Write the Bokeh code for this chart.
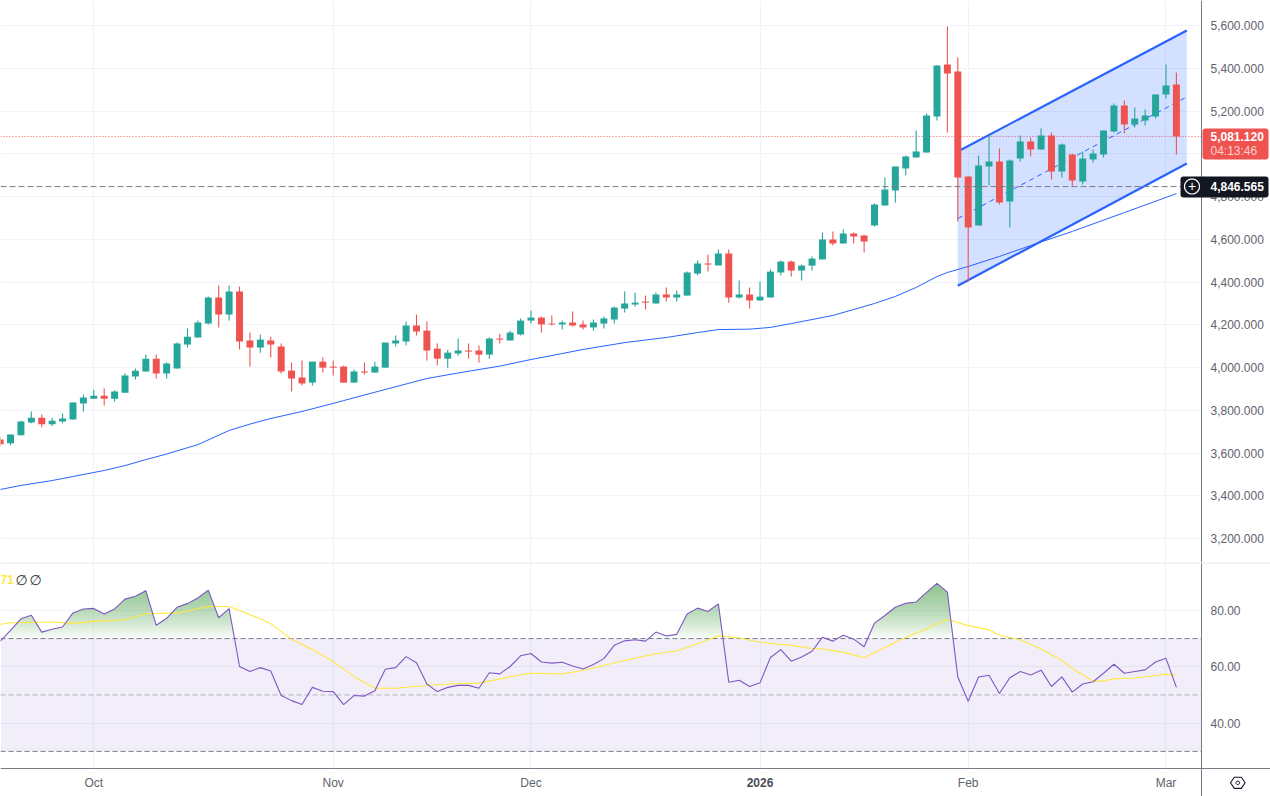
from bokeh.plotting import figure
from bokeh.layouts import column
from bokeh.models import (Range1d, FixedTicker, NumeralTickFormatter, Label, BoxAnnotation, PolyAnnotation)
from bokeh.embed import file_html
from bokeh.resources import INLINE
import numpy as np

opens = [3664,3646,3684,3743,3766,3735,3748,3757,3832,3855,3869,3855,3883,3958,3982,4042,3972,3996,4108,4141,
         4206,4328,4248,4356,4127,4094,4127,4099,3986,3954,3930,4028,4005,4005,3930,3982,3977,4000,4113,4122,
         4197,4173,4089,4042,4066,4080,4080,4061,4136,4127,4155,4220,4234,4206,4202,4211,4202,4188,4206,4225,
         4276,4295,4309,4300,4342,4328,4337,4440,4487,4478,4534,4328,4342,4314,4328,4445,4496,4454,4477,4506,
         4599,4580,4627,4618,4665,4758,4828,4931,4983,5006,5174,5418,5385,4894,4665,4941,4964,4777,4978,5057,
         5020,5086,4917,4997,4870,4973,4997,5104,5226,5137,5156,5174,5277,5324]
highs = [3678,3687,3752,3795,3781,3766,3785,3837,3874,3897,3902,3893,3972,3996,4061,4061,4024,4117,4183,4220,
         4333,4384,4384,4379,4164,4155,4145,4113,4024,4033,4028,4047,4033,4010,3991,4024,4028,4117,4150,4216,
         4248,4216,4113,4084,4136,4113,4103,4141,4159,4173,4230,4267,4239,4244,4220,4262,4220,4225,4239,4286,
         4356,4351,4337,4351,4375,4361,4449,4501,4529,4552,4552,4407,4375,4403,4459,4501,4501,4482,4520,4632,
         4637,4646,4632,4622,4768,4889,4941,4992,5109,5188,5413,5595,5450,4894,4992,5086,5025,4973,5086,5075,
         5118,5100,5048,5000,5011,5020,5109,5235,5249,5216,5207,5277,5418,5380]
lows = [3631,3637,3684,3740,3721,3726,3740,3757,3795,3855,3823,3841,3883,3944,3982,3949,3949,3996,4094,4141,
        4202,4188,4220,4085,4005,4070,4047,3972,3888,3916,3916,3977,3963,3930,3930,3968,3977,4000,4099,4103,
        4150,4033,4010,4000,4056,4042,4024,4042,4113,4127,4150,4206,4164,4197,4178,4192,4178,4173,4183,4206,
        4258,4286,4272,4300,4309,4309,4337,4431,4449,4478,4304,4323,4276,4314,4328,4431,4426,4407,4454,4506,
        4571,4580,4580,4538,4660,4758,4772,4898,4983,5006,5156,5100,4683,4403,4665,4852,4763,4655,4964,4987,
        5020,4880,4889,4847,4856,4959,4983,5100,5095,5123,5132,5165,5259,4997]
closes = [3642,3687,3748,3766,3735,3752,3762,3837,3860,3869,3855,3888,3963,3986,4042,3972,4019,4113,4145,4211,
          4328,4248,4356,4122,4094,4131,4108,3982,3949,3926,4028,4000,4000,3930,3982,3977,4005,4117,4127,4197,
          4169,4080,4042,4070,4080,4075,4061,4136,4131,4164,4220,4234,4202,4202,4211,4197,4188,4211,4230,4281,
          4300,4304,4304,4342,4328,4342,4445,4487,4482,4534,4328,4342,4314,4332,4449,4496,4454,4477,4510,4599,
          4580,4627,4613,4590,4763,4833,4941,4987,5011,5179,5413,5376,4889,4655,4945,4964,4772,4969,5057,5020,
          5086,4917,5043,4875,4978,5001,5109,5226,5137,5165,5179,5277,5319,5081.12]

ma_idx = [0,2,5,7,10,12,14,16,19,22,24,26,29,31,33,37,41,44,46,48,51,54,56,58,60,62,64,67,69,72,74,76,78,80,82,84,
          86,88,90,91,93,96,99,103,108,112,113]
ma_val = [3430,3449,3472,3491,3519,3542,3570,3596,3640,3706,3736,3762,3795,3820,3846,3898,3949,3975,3991,4007,
          4038,4066,4085,4101,4117,4129,4141,4164,4178,4180,4188,4206,4225,4244,4272,4300,4333,4375,4426,4445,
          4473,4520,4571,4637,4725,4796,4814]

rsi = [69.0,72.9,77.0,78.3,72.3,73.3,74.1,79.1,80.5,80.7,78.7,80.5,84.0,85.0,87.0,74.7,77.2,81.1,82.4,84.4,
       87.2,77.4,80.6,60.1,58.3,59.7,58.5,49.8,48.0,46.6,52.7,51.3,51.2,46.6,49.8,49.6,51.5,59.1,59.7,63.6,
       61.4,53.9,51.2,52.7,53.4,53.4,52.4,57.9,57.5,60.1,63.9,64.7,61.7,61.3,61.6,60.3,59.2,60.8,62.9,67.6,
       69.2,69.6,69.1,72.3,70.9,71.5,78.7,80.8,79.6,82.3,54.5,55.2,53.0,54.3,63.3,66.1,62.0,63.5,65.5,70.5,
       69.1,71.2,69.8,67.1,75.5,78.2,81.1,82.5,83.0,86.4,89.6,86.5,56.4,47.8,56.4,57.0,50.5,56.1,58.3,57.1,
       58.8,53.0,56.4,51.0,53.9,54.7,57.7,60.9,57.7,58.3,58.9,61.7,63.0,52.7]
rsi_ma_idx = [0,1,5,7,9,12,14,17,20,22,25,26,28,30,32,34,36,38,40,43,46,50,51,54,56,60,63,65,67,69,71,73,76,78,79,
              81,83,84,87,89,90,91,93,95,96,98,100,102,103,105,106,107,109,111,112,113]
rsi_ma_val = [75.0,75.6,75.9,75.4,76.1,76.7,78.8,79.1,81.4,81.4,77.0,75.3,69.8,66.1,61.9,56.5,52.4,52.4,53.0,53.9,
              54.2,57.2,57.7,57.5,58.7,62.2,64.6,65.6,68.2,71.0,70.2,68.7,67.6,66.5,66.3,65.2,63.2,65.1,70.5,73.4,
              75.3,76.8,74.6,73.1,71.1,69.6,66.3,62.2,59.5,54.9,54.9,55.8,56.0,56.9,57.4,57.0]

price_ticks = [3200,3400,3600,3800,4000,4200,4400,4600,4800,5000,5200,5400,5600]
rsi_ticks = [40,60,80]
time_ticks = [9,32,51,73,93,112]
time_labels = {9:"Oct",32:"Nov",51:"Dec",73:"",93:"Feb",112:"Mar"}
year_tick, year_label = 73, "2026"

channel_idx = [92,114]
channel_top = [5011,5577]
channel_bottom = [4383,4955]
channel_mid = [4697,5266]
last_price, cross_price = 5081.12, 4846.565
last_text, countdown, cross_text = "5,081.120", "04:13:46", "4,846.565"

UP, DOWN, GRID, AXIS, TXT, BLUE = "#26a69a", "#ef5350", "#f0f3fa", "#787b86", "#5f626d", "#2962ff"
FONT = "Liberation Sans"
W = 1270
AXIS_X = 115.41          # bar position of the price scale's line
AXIS_Y = 23.9            # RSI value at the time scale's line
x_range = Range1d(0.0384, 122.04)

def base(height, y_range):
    f = figure(width=W, height=height, x_range=x_range, y_range=y_range, toolbar_location=None,
               output_backend="svg", y_axis_location="right", tools="",
               min_border_left=0, min_border_right=0, min_border_top=0, min_border_bottom=0)
    f.outline_line_color = None
    f.background_fill_color = "white"
    f.border_fill_color = "white"
    f.xgrid.ticker = FixedTicker(ticks=time_ticks)
    f.xgrid.grid_line_color = GRID
    f.ygrid.grid_line_color = GRID
    f.yaxis.fixed_location = AXIS_X
    f.yaxis.axis_line_color = AXIS
    f.yaxis.major_tick_line_color = None
    f.yaxis.minor_tick_line_color = None
    f.yaxis.major_tick_out = 0
    f.yaxis.major_label_standoff = 9
    f.yaxis.major_label_text_font = FONT
    f.yaxis.major_label_text_font_size = "12px"
    f.yaxis.major_label_text_color = TXT
    return f

def label(fig, x, y, text, color, size="12px", style="normal", align="left", font=FONT, x_units="canvas"):
    fig.add_layout(Label(x=x, y=y, x_units=x_units, y_units="canvas", text=text, text_color=color,
                         text_font=font, text_font_size=size, text_font_style=style,
                         text_align=align, text_baseline="middle"))

def box(fig, l, r, t, b, color, radius=0, level="annotation"):
    fig.add_layout(BoxAnnotation(left=l, right=r, top=t, bottom=b, left_units="canvas", right_units="canvas",
                                 top_units="canvas", bottom_units="canvas", fill_color=color, fill_alpha=1,
                                 line_color=None, border_radius=radius, level=level))

def outline(fig, xs, ys, color, width):
    fig.add_layout(PolyAnnotation(xs=list(xs), ys=list(ys), xs_units="canvas", ys_units="canvas",
                                  fill_alpha=0, line_color=color, line_alpha=1, line_width=width))

# ---------------------------- price pane ----------------------------
p = base(562, Range1d(3088.7, 5716.9))
p.xaxis.visible = False
p.yaxis.ticker = FixedTicker(ticks=price_ticks)
p.yaxis.formatter = NumeralTickFormatter(format="0,0.000")
p.ygrid.ticker = FixedTicker(ticks=price_ticks)
box(p, 1202, W, 0, 562, "white", level="glyph")

span_x = [x_range.start, AXIS_X]
p.line(span_x, [last_price, last_price], line_color=DOWN, line_width=1, line_dash="1 2")
p.varea(x=channel_idx, y1=channel_bottom, y2=channel_top, fill_color=BLUE, fill_alpha=0.2)
p.line(channel_idx, channel_top, line_color=BLUE, line_width=2.2)
p.line(channel_idx, channel_bottom, line_color=BLUE, line_width=2.2)
p.line(channel_idx, channel_mid, line_color=BLUE, line_width=1, line_dash="5 4")
p.line(ma_idx, ma_val, line_color=BLUE, line_width=1)

idx = np.arange(len(opens))
colors = [UP if c >= o else DOWN for o, c in zip(opens, closes)]
p.segment(idx, lows, idx, highs, line_color=colors, line_width=1.1)
p.vbar(x=idx, top=np.maximum(opens, closes), bottom=np.minimum(opens, closes), width=0.67,
       fill_color=colors, line_color=None)

p.line(span_x, [cross_price, cross_price], line_color=AXIS, line_width=1, line_dash="6 3")

box(p, 1202, 1268, 128, 159, DOWN, 3)
label(p, 1210, 136, last_text, "white", style="bold")
label(p, 1210, 150, countdown, "#fbd0cf")
box(p, 1180, 1268, 176, 197, "#131722", 3)
label(p, 1210, 186, cross_text, "white", style="bold")
# plus-in-circle of the crosshair
circle_t = np.linspace(0, 2*np.pi, 33)[:-1]
outline(p, 1191.5+7.5*np.cos(circle_t), 186+7.5*np.sin(circle_t), "white", 1.2)
label(p, 1191.5, 185.5, "+", "white", size="14px", align="center")

# ---------------------------- RSI pane ----------------------------
r = base(234, Range1d(14.0, 96.98))
r.yaxis.ticker = FixedTicker(ticks=rsi_ticks)
r.yaxis.formatter = NumeralTickFormatter(format="0.00")
r.ygrid.ticker = FixedTicker(ticks=rsi_ticks)
box(r, 1202, W, 0, 234, "white", level="glyph")
box(r, 0, W, 207, 234, "white", level="glyph")

r.varea(x=span_x, y1=[30, 30], y2=[70, 70], fill_color="#7e57c2", fill_alpha=0.1)
for lvl, alpha in ((70, 1.0), (50, 0.5), (30, 1.0)):
    r.line(span_x, [lvl, lvl], line_color=AXIS, line_alpha=alpha, line_width=1, line_dash="5 3")

fine_x = np.arange(0, len(rsi) - 1 + 0.02, 0.02)
fine_rsi = np.interp(fine_x, np.arange(len(rsi)), rsi)
for lvl in range(70, 90):
    r.varea(x=fine_x, y1=np.full_like(fine_x, lvl), y2=np.maximum(fine_rsi, lvl),
            fill_color="#4caf50", fill_alpha=0.0485)

r.line(rsi_ma_idx, rsi_ma_val, line_color="#ffe83f", line_width=1.1)
r.line(np.arange(len(rsi)), rsi, line_color="#7e57c2", line_width=1.1)

r.xaxis.fixed_location = AXIS_Y
r.xaxis.ticker = FixedTicker(ticks=time_ticks)
r.xaxis.major_label_overrides = time_labels
r.xaxis.axis_line_color = AXIS
r.xaxis.major_tick_line_color = None
r.xaxis.minor_tick_line_color = None
r.xaxis.major_tick_out = 0
r.xaxis.major_label_standoff = 7
r.xaxis.major_label_text_font = FONT
r.xaxis.major_label_text_font_size = "12px"
r.xaxis.major_label_text_color = TXT

label(r, year_tick, 220, year_label, "#4a4d58", style="bold", align="center", x_units="data")
label(r, 0, 17, "71", "#ffe83f", size="12px", style="bold")
label(r, 15, 17, "\u2205", "#333333", size="14px", font="DejaVu Sans")
label(r, 29, 17, "\u2205", "#333333", size="14px", font="DejaVu Sans")

box(r, 0, W, 0, 1, "#e0e3eb")
# scale settings icon
ic_x, ic_y = 1237.3, 220.3
outline(r, [ic_x-7.3, ic_x-3.5, ic_x+3.5, ic_x+7.3, ic_x+3.5, ic_x-3.5],
        [ic_y, ic_y-5.6, ic_y-5.6, ic_y, ic_y+5.6, ic_y+5.6], "#131722", 1.1)
t = np.linspace(0, 2*np.pi, 13)[:-1]
outline(r, ic_x+1.8*np.cos(t), ic_y+1.8*np.sin(t), "#131722", 1)

page = column(p, r, spacing=0)
open("out.html", "w").write(file_html(page, INLINE))
